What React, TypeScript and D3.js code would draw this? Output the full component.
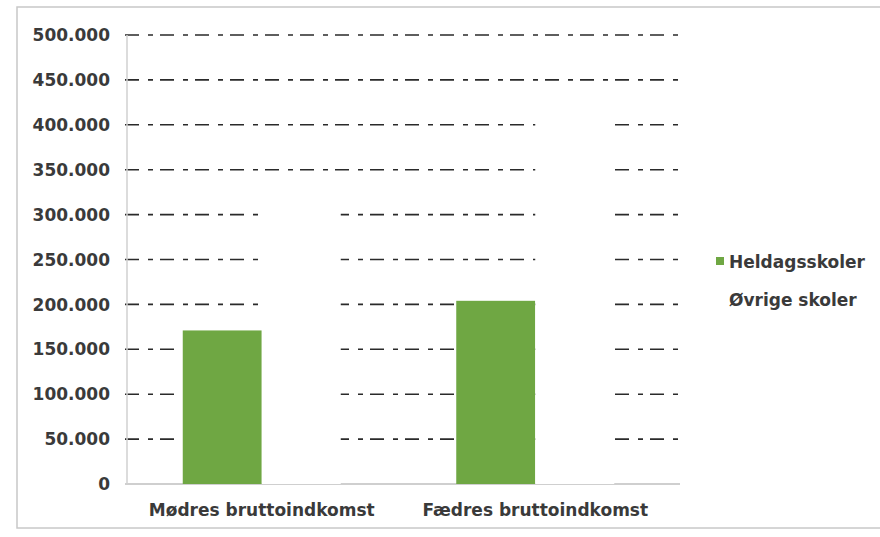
import React from "react";
import * as d3 from "d3";

const categories = ["Mødres bruttoindkomst", "Fædres bruttoindkomst"];
const seriesNames = ["Heldagsskoler", "Øvrige skoler"];
const heldagsskoler = [171000, 204000];
const ovrigeSkoler = [330000, 420000];
const yTicks = [0, 50000, 100000, 150000, 200000, 250000, 300000, 350000, 400000, 450000, 500000];

const W = 880;
const H = 537;
const FONT = "'DejaVu Sans', Verdana, sans-serif";
const GREEN = "#6fa743";

export default function App() {
  const plotLeft = 125;
  const plotRight = 672;
  const y = d3.scaleLinear().domain([0, 500000]).range([484, 35]);
  const x = d3.scaleBand<string>().domain(categories).range([plotLeft, plotRight]).paddingInner(0).paddingOuter(0);
  const barW = 79;
  const fmt = (v: number) => (v === 0 ? "0" : d3.format(",")(v).replace(/,/g, "."));
  const series = [heldagsskoler, ovrigeSkoler];
  const colors = [GREEN, "#ffffff"];

  return (
    <svg width={W} height={H} style={{ position: "absolute", left: 0, top: 0, background: "#fff" }} fontFamily={FONT}>
      <rect x={0} y={0} width={W} height={H} fill="#fff" />
      <rect x={17} y={7} width={880} height={521} fill="none" stroke="#c8c8c8" strokeWidth={1.5} />
      {yTicks.map((t) => (
        <g key={t}>
          {t > 0 && (
            <line x1={plotLeft} x2={plotRight + 8} y1={y(t)} y2={y(t)} stroke="#2a2a2a" strokeWidth={1.6} strokeDasharray="14 9 5 7" />
          )}
          <text x={110} y={y(t)} dy="0.36em" textAnchor="end" fontSize={17} fontWeight="bold" fill="#3a3a3a">
            {fmt(t)}
          </text>
        </g>
      ))}
      <line x1={plotLeft} x2={plotRight + 8} y1={y(0)} y2={y(0)} stroke="#cfcfcf" strokeWidth={2} />
      <line x1={127} x2={127} y1={y(500000)} y2={y(0)} stroke="#d0d0d0" strokeWidth={1.5} />
      {categories.map((c, i) => {
        const center = (x(c) as number) + x.bandwidth() / 2;
        return (
          <g key={c}>
            {series.map((s, j) => (
              <rect
                key={j}
                x={center - barW + j * barW}
                y={y(s[i])}
                width={barW}
                height={y(0) - y(s[i])}
                fill={colors[j]}
              />
            ))}
            <text x={center} y={516} textAnchor="middle" fontSize={17} fontWeight="bold" fill="#3a3a3a">
              {c}
            </text>
          </g>
        );
      })}
      {seriesNames.map((n, j) => (
        <g key={n}>
          <rect x={716} y={257 + j * 38} width={8} height={8} fill={colors[j]} />
          <text x={729} y={262 + j * 38} dy="0.36em" fontSize={17} fontWeight="bold" fill="#3a3a3a">
            {n}
          </text>
        </g>
      ))}
    </svg>
  );
}
